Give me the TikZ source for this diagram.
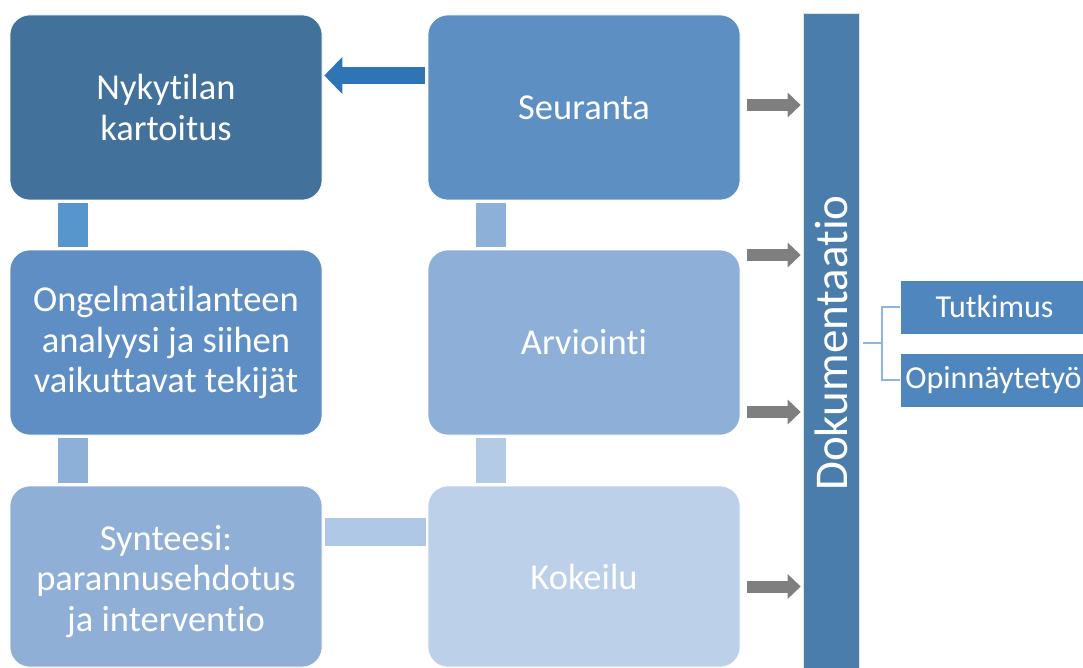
\documentclass[tikz,border=0pt]{standalone}
\usepackage{fontspec}
\setmainfont{Carlito}[Ligatures=NoCommon]
\usetikzlibrary{arrows.meta}
\definecolor{cNyky}{HTML}{42719C}
\definecolor{cSeur}{HTML}{5D8FC2}
\definecolor{cOngel}{HTML}{5E8EC3}
\definecolor{cArv}{HTML}{8EAFD7}
\definecolor{cSynt}{HTML}{8FAFD6}
\definecolor{cKok}{HTML}{BCD0E9}
\definecolor{cLinkA}{HTML}{5796CC}
\definecolor{cLinkB}{HTML}{8DB0D8}
\definecolor{cLinkC}{HTML}{B4CBE6}
\definecolor{cLinkD}{HTML}{AFC8E6}
\definecolor{cDoc}{HTML}{4A7DAC}
\definecolor{cOut}{HTML}{4F86BE}
\definecolor{cBrace}{HTML}{8EB4E3}
\definecolor{cBlueArrow}{HTML}{2E75B6}
\definecolor{cGrayArrow}{HTML}{7F7F7F}
\tikzset{
  stage/.style={rounded corners=20pt, draw=white, line width=0.6pt,
    minimum width=312pt, minimum height=185pt, align=center,
    text=white, font=\fontsize{36.5}{40.5}\selectfont, inner sep=0pt},
  stagetext/.style={align=center, text=white,
    font=\fontsize{36.5}{40.5}\selectfont, inner sep=0pt},
  outbox/.style={draw=white, line width=0.6pt, fill=cOut, text=white,
    minimum width=183pt, minimum height=54pt, inner sep=0pt,
    font=\fontsize{32}{38}\selectfont},
  grayarrow/.style={cGrayArrow, line width=12pt,
    -{Triangle[length=13pt,width=24pt]}},
  bluearrow/.style={cBlueArrow, line width=17pt,
    -{Triangle[length=18pt,width=36pt]}},
  bracket/.style={draw=cBrace, line width=2pt}
}
\begin{document}
\begin{tikzpicture}[x=1pt,y=-1pt]
\useasboundingbox (0,0) rectangle (1083,668);
\fill[white] (0,0) rectangle (1083,668);

% process stages
\node[stage, fill=cNyky] (nyky) at (166,107.5) {Nykytilan\\kartoitus};
\node[stage, fill=cSeur] (seur) at (584,107.5) {Seuranta};
\node[stage, fill=cOngel] (ongel) at (166,342.5) {Ongelmatilanteen\\analyysi ja siihen\\vaikuttavat tekijät};
\node[stage, fill=cArv] (arv) at (584,342.5) {Arviointi};
\node[stage, fill=cSynt, minimum height=181pt] (synt) at (166,576.5) {};
\node[stagetext] (synttext) at ([yshift=-5pt]synt.center) {Synteesi:\\parannusehdotus\\ja interventio};
\node[stage, fill=cKok, minimum height=181pt] (kok) at (584,576.5) {Kokeilu};

% documentation column
\node[draw=white!80!cDoc, line width=0.6pt, fill=cDoc, minimum width=56pt,
  minimum height=660pt, inner sep=0pt] (doc) at (831,343) {};
\node[rotate=90, text=white, font=\fontsize{47}{56}\selectfont] (doctext) at (doc.center) {Dokumentaatio};

% outputs
\node[outbox] (tut) at (991.5,307) {\hspace*{6pt}Tutkimus};
\node[outbox] (opin) at (991.5,380) {\hspace*{4pt}Opinnäytetyö};

% links between stages
\fill[cLinkA] ([xshift=48pt,yshift=-3pt]nyky.south west) rectangle ([xshift=78pt,yshift=3pt]ongel.north west);
\fill[cLinkB] ([xshift=48pt,yshift=-3pt]ongel.south west) rectangle ([xshift=78pt,yshift=3pt]synt.north west);
\fill[cLinkB] ([xshift=48pt,yshift=-3pt]seur.south west) rectangle ([xshift=78pt,yshift=3pt]arv.north west);
\fill[cLinkC] ([xshift=48pt,yshift=-3pt]arv.south west) rectangle ([xshift=78pt,yshift=3pt]kok.north west);
\fill[cLinkD] ([xshift=3pt,yshift=-32pt]synt.north east) rectangle ([xshift=-2pt,yshift=-60pt]kok.north west);

% feedback arrow
\draw[bluearrow] ([xshift=-3pt,yshift=32pt]seur.west) -- ([xshift=2pt,yshift=32pt]nyky.east);

% arrows into documentation
\draw[grayarrow] ([xshift=7pt,yshift=2.5pt]seur.east) -- ([xshift=-2pt,yshift=2.5pt]seur.east -| doc.west);
\draw[grayarrow] ([xshift=7pt,yshift=87.5pt]arv.east) -- ([xshift=-2pt,yshift=87.5pt]arv.east -| doc.west);
\draw[grayarrow] ([xshift=7pt,yshift=-69.5pt]arv.east) -- ([xshift=-2pt,yshift=-69.5pt]arv.east -| doc.west);
\draw[grayarrow] ([xshift=7pt,yshift=-10pt]kok.east) -- ([xshift=-2pt,yshift=-10pt]kok.east -| doc.west);

% bracket to outputs
\coordinate (bj) at (882,343);
\draw[bracket] ([xshift=4pt]doc.east |- bj) -- (bj);
\draw[bracket] (tut.west) -| (bj) |- (opin.west);
\end{tikzpicture}
\end{document}
